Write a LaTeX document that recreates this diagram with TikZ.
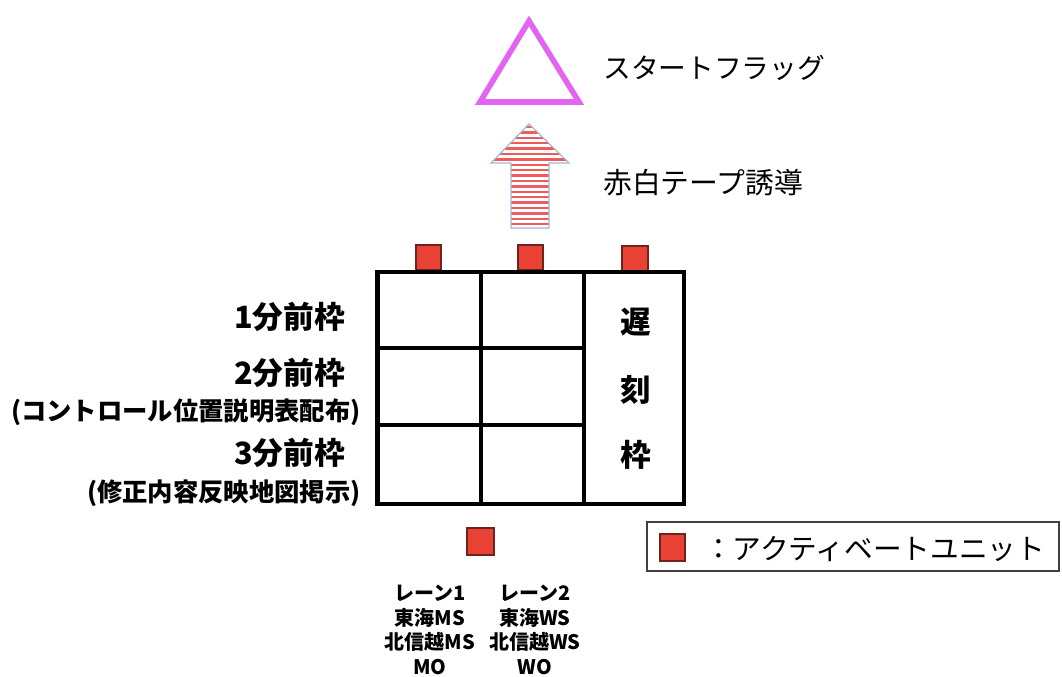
\documentclass[tikz,border=0pt]{standalone}
\usepackage{fontspec}
\setmainfont{Noto Sans CJK JP}
\definecolor{flagmag}{RGB}{226,100,240}
\definecolor{unitred}{RGB}{233,65,51}
\definecolor{unitedge}{RGB}{110,35,28}
\definecolor{stripered}{RGB}{240,90,90}
\definecolor{arrowedge}{RGB}{160,185,210}
\tikzset{
  unit/.style={fill=unitred,draw=unitedge,line width=0.9pt},
  gridline/.style={line width=3.6pt,line cap=rect},
  bigjp/.style={inner sep=0pt,font=\fontsize{23}{26}\selectfont\bfseries},
  smalljp/.style={inner sep=0pt,font=\fontsize{19}{22}\selectfont\bfseries},
  lanetxt/.style={inner sep=0pt,align=center,font=\fontsize{15}{18.4}\selectfont\bfseries},
  toptxt/.style={inner sep=0pt,anchor=west,font=\fontsize{20.8}{24}\selectfont},
}
\begin{document}
\begin{tikzpicture}[x=0.75pt,y=-0.75pt]
\useasboundingbox (0,0) rectangle (1062,677);
% start flag triangle
\draw[flagmag,line width=4.2pt,line join=miter] (480,102) -- (579,102) -- (529,21) -- cycle;
\node[toptxt] (flag) at (603,68) {スタートフラッグ};
% striped arrow
\begin{scope}
  \clip (529,124) -- (569,163) -- (549,163) -- (549,228) -- (511,228) -- (511,163) -- (491,163) -- cycle;
  \foreach \k in {0,...,19} {
    \draw[stripered,line width=1.9pt] (480,{127+5.4*\k}) -- (580,{127+5.4*\k});
  }
\end{scope}
\draw[arrowedge,line width=0.9pt,line join=miter] (529,124) -- (569,163) -- (549,163) -- (549,228) -- (511,228) -- (511,163) -- (491,163) -- cycle;
\node[toptxt,font=\fontsize{21.6}{24}\selectfont] (tape) at (603,183) {赤白テープ誘導};
% activate units on top
\draw[unit] (416,245) rectangle (441,270);
\draw[unit] (518,245) rectangle (543,270);
\draw[unit] (622,246) rectangle (648,271);
% grid
\draw[gridline] (377.5,272) rectangle (684,504);
\draw[gridline] (481,272) -- (481,504);
\draw[gridline] (584,272) -- (584,504);
\draw[gridline] (377.5,348) -- (584,348);
\draw[gridline] (377.5,425) -- (584,425);
\node[bigjp] (c1) at (636,322) {遅};
\node[bigjp] (c2) at (636,390) {刻};
\node[bigjp] (c3) at (636,455) {枠};
% left labels
\node[bigjp,anchor=east] (m1) at (345,317) {1分前枠};
\node[bigjp,anchor=east] (m2) at (345,373) {2分前枠};
\node[smalljp,anchor=east] (m2s) at (361,412) {(コントロール位置説明表配布)};
\node[bigjp,anchor=east] (m3) at (345,453) {3分前枠};
\node[smalljp,anchor=east] (m3s) at (361,493) {(修正内容反映地図掲示)};
% bottom unit
\draw[unit] (467,528) rectangle (494,555);
\node[lanetxt] (lane1) at (430,630) {レーン1\\東海MS\\北信越MS\\MO};
\node[lanetxt] (lane2) at (535,630) {レーン2\\東海WS\\北信越WS\\WO};
% legend
\draw[draw=black!75,line width=1.1pt] (647,522) rectangle (1059,571);
\draw[unit] (660,534) rectangle (685,561);
\node[inner sep=0pt,anchor=west,font=\fontsize{21.5}{24}\selectfont] (legtxt) at (704,549) {：アクティベートユニット};
\end{tikzpicture}
\end{document}
